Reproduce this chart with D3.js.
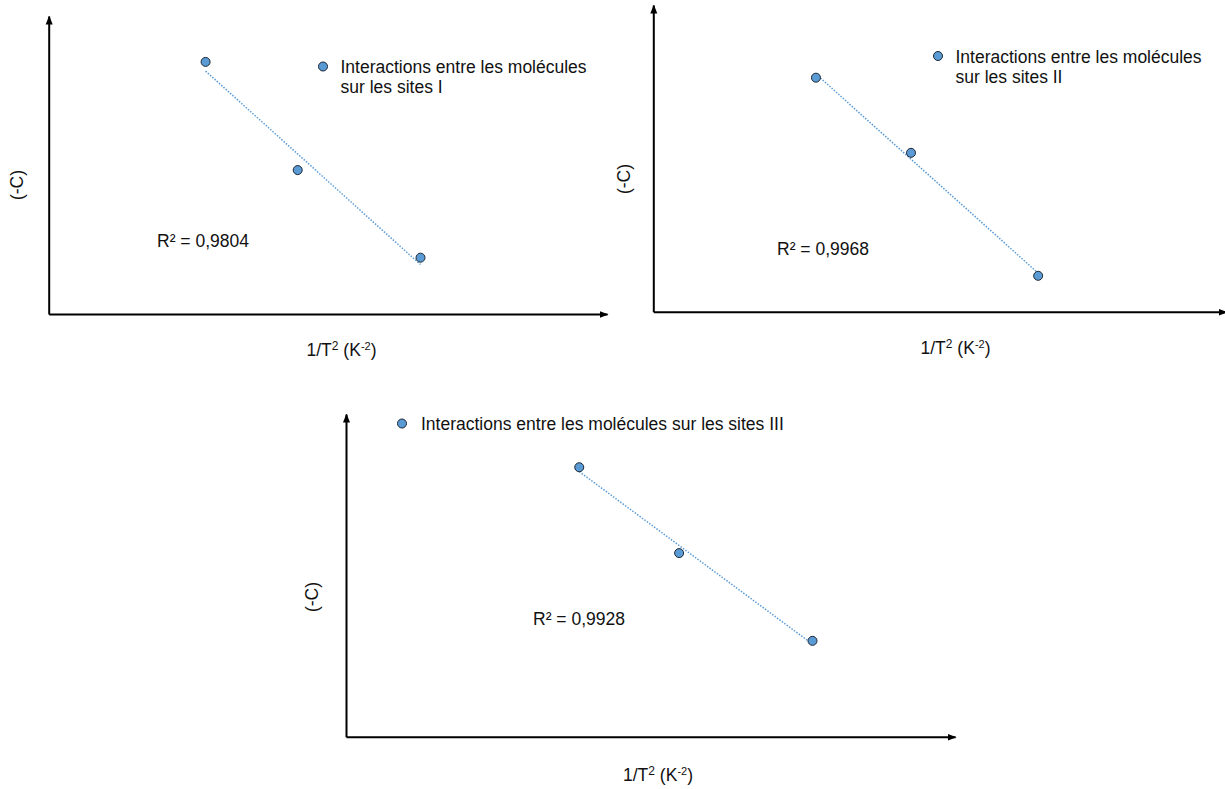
<!DOCTYPE html>
<html>
<head>
<meta charset="utf-8">
<script src="https://cdn.jsdelivr.net/npm/d3@7"></script>
<style>
  html, body { margin: 0; padding: 0; background: #ffffff; }
  svg { display: block; }
</style>
</head>
<body>
<svg id="chart" width="1225" height="789"></svg>
<script>
// ---- Data (arbitrary units, no ticks on the original axes) ----
const xValuesSitesI   = [28.1, 44.6, 66.6];
const yValuesSitesI   = [84.6, 48.3, 18.9];
const xValuesSitesII  = [28.4, 45.0, 67.2];
const yValuesSitesII  = [76.3, 51.8, 11.7];
const xValuesSitesIII = [38.3, 54.7, 76.6];
const yValuesSitesIII = [83.5, 56.9, 29.7];

const legendSitesI   = ["Interactions entre les molécules", "sur les sites I"];
const legendSitesII  = ["Interactions entre les molécules", "sur les sites II"];
const legendSitesIII = ["Interactions entre les molécules sur les sites III"];

const r2Labels = ["R² = 0,9804", "R² = 0,9968", "R² = 0,9928"];
const yAxisLabel = "(-C)";
const axisDomain = [0, 100];

// ---- Layout / style ----
const FONT = "'Liberation Sans', Arial, Helvetica, sans-serif";
const FS = 17.5;
const TEXT_COLOR = "#111111";
const POINT_FILL = "#5b9bd5";
const POINT_STROKE = "#1c2633";
const TREND_COLOR = "#5b9bd5";

const layouts = [
  { left: 48.7, right: 607, top: 16, bottom: 314,
    legendMarker: [323, 66.5], legendX: 340.5, legendY: 72.7, r2: [157, 246.5],
    yLab: [23, 185], xLab: [341.5, 356] },
  { left: 653.3, right: 1226, top: 5, bottom: 311.7,
    legendMarker: [938, 56], legendX: 955.5, legendY: 62.5, r2: [777, 255],
    yLab: [630, 179], xLab: [955.5, 354] },
  { left: 346, right: 955, top: 414, bottom: 736.7,
    legendMarker: [402, 423.5], legendX: 421, legendY: 430, r2: [533, 625],
    yLab: [318, 597], xLab: [658, 781] }
];

const panels = [
  { xs: xValuesSitesI,   ys: yValuesSitesI,   legend: legendSitesI,   r2: r2Labels[0] },
  { xs: xValuesSitesII,  ys: yValuesSitesII,  legend: legendSitesII,  r2: r2Labels[1] },
  { xs: xValuesSitesIII, ys: yValuesSitesIII, legend: legendSitesIII, r2: r2Labels[2] }
];

const svg = d3.select("#chart");

// arrowhead marker
svg.append("defs").append("marker")
  .attr("id", "arrow")
  .attr("viewBox", "0 -4 9 8")
  .attr("refX", 8)
  .attr("refY", 0)
  .attr("markerUnits", "userSpaceOnUse")
  .attr("markerWidth", 9)
  .attr("markerHeight", 8)
  .attr("orient", "auto")
  .append("path")
  .attr("d", "M0,-3.5L9,0L0,3.5Z")
  .attr("fill", "#000");

function linReg(xs, ys) {
  const n = xs.length;
  const mx = d3.mean(xs), my = d3.mean(ys);
  let sxy = 0, sxx = 0;
  for (let i = 0; i < n; i++) {
    sxy += (xs[i] - mx) * (ys[i] - my);
    sxx += (xs[i] - mx) * (xs[i] - mx);
  }
  const b = sxy / sxx;
  const a = my - b * mx;
  return x => a + b * x;
}

panels.forEach((p, i) => {
  const L = layouts[i];
  const x = d3.scaleLinear().domain(axisDomain).range([L.left, L.right]);
  const y = d3.scaleLinear().domain(axisDomain).range([L.bottom, L.top]);
  const g = svg.append("g");

  // axes (no ticks), with arrowheads
  const xAxis = g.append("g")
    .attr("transform", `translate(0,${L.bottom})`)
    .call(d3.axisBottom(x).tickValues([]).tickSizeOuter(0));
  xAxis.select(".domain")
    .attr("stroke", "#000").attr("stroke-width", 2)
    .attr("marker-end", "url(#arrow)");

  const yAxis = g.append("g")
    .attr("transform", `translate(${L.left},0)`)
    .call(d3.axisLeft(y).tickValues([]).tickSizeOuter(0));
  yAxis.select(".domain")
    .attr("stroke", "#000").attr("stroke-width", 2)
    .attr("marker-end", "url(#arrow)");

  // trendline (linear regression between extreme x)
  const f = linReg(p.xs, p.ys);
  const x0 = d3.min(p.xs), x1 = d3.max(p.xs);
  g.append("line")
    .attr("x1", x(x0)).attr("y1", y(f(x0)))
    .attr("x2", x(x1)).attr("y2", y(f(x1)))
    .attr("stroke", TREND_COLOR)
    .attr("stroke-width", 1.5)
    .attr("stroke-dasharray", "1.5 1.5");

  // points
  g.selectAll("circle.pt")
    .data(p.xs.map((v, k) => [v, p.ys[k]]))
    .join("circle")
    .attr("class", "pt")
    .attr("cx", d => x(d[0]))
    .attr("cy", d => y(d[1]))
    .attr("r", 4.5)
    .attr("fill", POINT_FILL)
    .attr("stroke", POINT_STROKE)
    .attr("stroke-width", 1);

  // legend
  g.append("circle")
    .attr("cx", L.legendMarker[0]).attr("cy", L.legendMarker[1])
    .attr("r", 4.5)
    .attr("fill", POINT_FILL)
    .attr("stroke", POINT_STROKE)
    .attr("stroke-width", 1);
  const lt = g.append("text")
    .attr("x", L.legendX).attr("y", L.legendY)
    .attr("font-family", FONT).attr("font-size", FS)
    .attr("fill", TEXT_COLOR);
  p.legend.forEach((line, k) => {
    lt.append("tspan")
      .attr("x", L.legendX)
      .attr("dy", k === 0 ? 0 : 20.5)
      .text(line);
  });

  // R² label
  g.append("text")
    .attr("x", L.r2[0]).attr("y", L.r2[1])
    .attr("font-family", FONT).attr("font-size", FS)
    .attr("fill", TEXT_COLOR)
    .text(p.r2);

  // y-axis label
  g.append("text")
    .attr("transform", `translate(${L.yLab[0]},${L.yLab[1]}) rotate(-90)`)
    .attr("text-anchor", "middle")
    .attr("font-family", FONT).attr("font-size", FS)
    .attr("fill", TEXT_COLOR)
    .text(yAxisLabel);

  // x-axis label: 1/T² (K⁻²)
  const xl = g.append("text")
    .attr("x", L.xLab[0]).attr("y", L.xLab[1])
    .attr("text-anchor", "middle")
    .attr("font-family", FONT).attr("font-size", FS)
    .attr("fill", TEXT_COLOR);
  xl.append("tspan").text("1/T");
  xl.append("tspan").attr("font-size", 12).attr("dy", -6).text("2");
  xl.append("tspan").attr("dy", 6).text(" (K");
  xl.append("tspan").attr("font-size", 11).attr("dy", -6).text("-2");
  xl.append("tspan").attr("dy", 6).text(")");
});
</script>
</body>
</html>
